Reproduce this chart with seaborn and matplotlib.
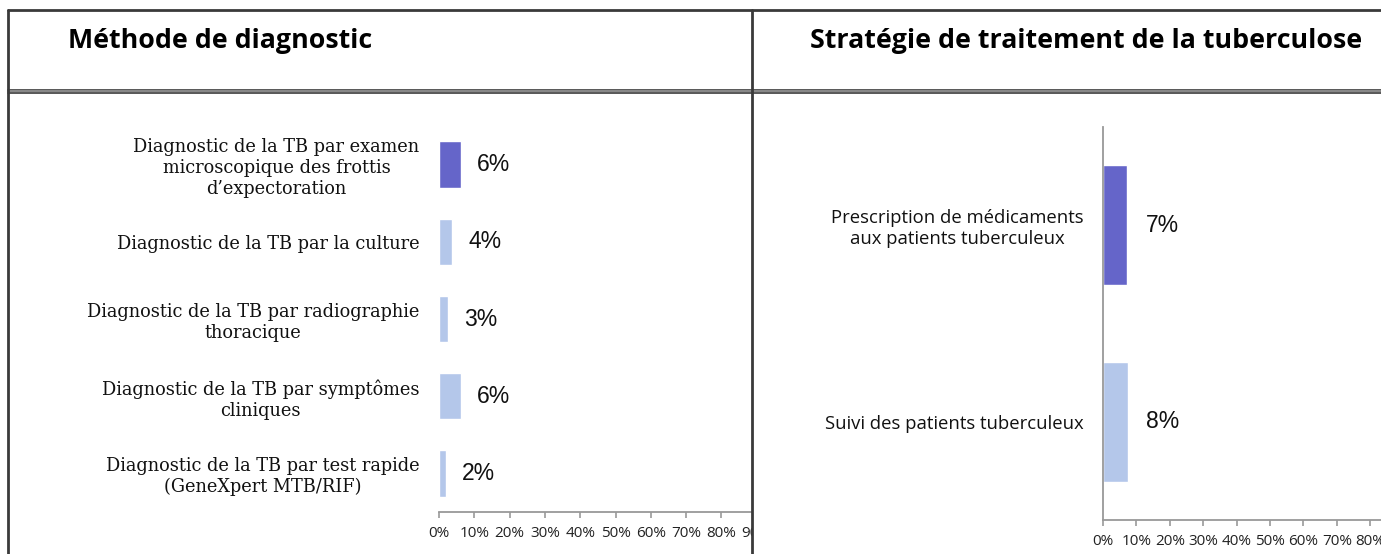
import matplotlib
matplotlib.use("Agg")
import matplotlib.pyplot as plt
from matplotlib.lines import Line2D
from matplotlib.patches import Rectangle
import seaborn as sns

# Data
diag_labels = [
    "Diagnostic de la TB par examen\nmicroscopique des frottis\nd’expectoration",
    "Diagnostic de la TB par la culture",
    "Diagnostic de la TB par radiographie\nthoracique",
    "Diagnostic de la TB par symptômes\ncliniques",
    "Diagnostic de la TB par test rapide\n(GeneXpert MTB/RIF)",
]
diag_values = [6.2, 3.7, 2.6, 6.2, 2.0]
diag_shown = ["6%", "4%", "3%", "6%", "2%"]

trait_labels = [
    "Prescription de médicaments\naux patients tuberculeux",
    "Suivi des patients tuberculeux",
]
trait_values = [7.3, 7.5]
trait_shown = ["7%", "8%"]

tick_vals = [0, 10, 20, 30, 40, 50, 60, 70, 80, 90]
tick_text = [f"{t}%" for t in tick_vals]

dark = "#6565C9"
light = "#B4C7EA"

W, H = 1381, 554
sns.set_theme(style="white")
fig = plt.figure(figsize=(W / 100, H / 100), dpi=100)


def px(x0, y0, x1, y1):
    return [x0 / W, 1 - y1 / H, (x1 - x0) / W, (y1 - y0) / H]


def style_axis(ax, labelfont, labelsize, show_left):
    ax.set_xlim(0, 100)
    ax.set_xticks(tick_vals)
    ax.set_xticklabels(tick_text, fontsize=11, color="#222222", family="Open Sans")
    ax.set_xlabel("")
    ax.set_ylabel("")
    for s in ["top", "right"]:
        ax.spines[s].set_visible(False)
    ax.spines["left"].set_visible(show_left)
    ax.spines["left"].set_color("#999999")
    ax.spines["bottom"].set_color("#999999")
    ax.spines["bottom"].set_linewidth(1.3)
    ax.spines["left"].set_linewidth(1.3)
    ax.tick_params(axis="x", bottom=True, length=4, width=1.2, color="#999999", pad=6)
    ax.tick_params(axis="y", left=False, length=0, pad=14)
    for lab in ax.get_yticklabels():
        lab.set_multialignment("center")
        lab.set_fontsize(labelsize)
        lab.set_color("#111111")
        lab.set_family(labelfont)
    ax.set_facecolor("white")


# Left chart
ax1 = fig.add_axes(px(439, 126, 792, 512))
sns.barplot(x=diag_values, y=diag_labels, hue=diag_labels,
            palette=[dark] + [light] * 4, width=0.6, orient="h",
            legend=False, ax=ax1, saturation=1)
style_axis(ax1, "DejaVu Serif", 12.8, False)
for i, (v, s) in enumerate(zip(diag_values, diag_shown)):
    ax1.annotate(s, (v, i), xytext=(16, 0), textcoords="offset pixels",
                 va="center", ha="left", fontsize=16.5,
                 family=["Liberation Sans Narrow", "Liberation Sans"], color="#111111")

# Right chart
ax2 = fig.add_axes(px(1103, 127, 1437, 520))
sns.barplot(x=trait_values, y=trait_labels, hue=trait_labels,
            palette=[dark, light], width=0.61, orient="h",
            legend=False, ax=ax2, saturation=1)
style_axis(ax2, "Open Sans", 13.3, True)
for i, (v, s) in enumerate(zip(trait_values, trait_shown)):
    ax2.annotate(s, (v, i), xytext=(18, 0), textcoords="offset pixels",
                 va="center", ha="left", fontsize=16.5,
                 family=["Liberation Sans Narrow", "Liberation Sans"], color="#111111")

# White cover so the left chart stops at the cell border
fig.add_artist(Rectangle((753 / W, 0), 50 / W, 1 - 93 / H, transform=fig.transFigure,
                         facecolor="white", edgecolor="none", zorder=5))

# Table borders
lc = "#3a3a3a"
def hline(y, x0=8, x1=W, lw=2, color=lc):
    fig.add_artist(Line2D([x0 / W, x1 / W], [1 - y / H, 1 - y / H], transform=fig.transFigure,
                          color=color, lw=lw, zorder=6))

def vline(x, y0=10, y1=H, lw=2):
    fig.add_artist(Line2D([x / W, x / W], [1 - y0 / H, 1 - y1 / H], transform=fig.transFigure,
                          color=lc, lw=lw, zorder=6))

hline(10)
hline(89.5, lw=1.2)
hline(92.5, lw=1.2)
hline(91, lw=1.5, color="#888888")
vline(8)
vline(752.5)

# Titles
fig.text(68 / W, 1 - 41 / H, "Méthode de diagnostic", fontsize=19.3, fontweight="bold",
         family="Open Sans", va="center", ha="left", color="black")
fig.text(810 / W, 1 - 41 / H, "Stratégie de traitement de la tuberculose", fontsize=19.3,
         fontweight="bold", family="Open Sans", va="center", ha="left", color="black")

fig.savefig("out.png", dpi=100, facecolor="white")
